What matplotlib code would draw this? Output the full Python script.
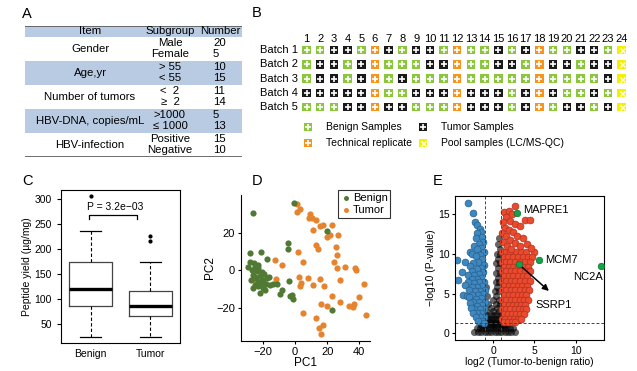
import matplotlib
matplotlib.use('Agg')
import matplotlib.pyplot as plt
from matplotlib.patches import Rectangle

plt.rcParams['font.family'] = ['Liberation Sans', 'DejaVu Sans']

# ---- panel A: clinical table ----
items = ['Gender', 'Age,yr', 'Number of tumors', 'HBV-DNA, copies/mL', 'HBV-infection']
subgroups = [['Male', 'Female'], ['> 55', '< 55'], ['<  2', '\u2265  2'],
             ['>1000', '\u2264 1000'], ['Positive', 'Negative']]
numbers = [[20, 5], [10, 15], [11, 14], [5, 13], [15, 10]]

# ---- panel B: batch layout (G benign, T tumor, O replicate, Y pool) ----
batches = ['Batch 1', 'Batch 2', 'Batch 3', 'Batch 4', 'Batch 5']
batch_layout = [
    'GGTTGOTGTTGOGGTGTOGGTTGY',
    'GTTGTOGGGTTOGGTTGOTTGTTY',
    'GTTGTOGTGGGOGGGGGOGGGGTY',
    'TTTTTOGGTTTOTTTGTOTGGTGY',
    'GGGTTOTTGGGOTTTGTOGTTGTY',
]
sample_colors = {'G': '#8cc63f', 'T': '#1a1a1a', 'O': '#f7941d', 'Y': '#f5f000'}
legend_names = [('G', 'Benign Samples'), ('T', 'Tumor Samples'),
                ('O', 'Technical replicate'), ('Y', 'Pool samples (LC/MS-QC)')]

# ---- panel C: peptide yield boxplot stats ----
box_groups = ['Benign', 'Tumor']
box_low = [25, 25]
box_q1 = [87, 67]
box_med = [121, 86]
box_q3 = [174, 116]
box_high = [236, 175]
box_fliers = [[307], [216, 226]]
p_text = 'P = 3.2e\u221203'

# ---- panel D: PCA ----
benign_pc1 = [-25.8, -0.6, 19.6, -4.5, -4.5, -21.2, -28.2, -17.3, -28.2, -25.2, -29.3, -24.7,
              -22.7, -3.7, -16, -13.4, -11.3, -8.2, -9.3, -3.1, -1.4, -2, 23.3, -25.8, -24,
              -21.6, -20.6, -24.7, -22.7, -19.6, -18.6, -21, -19.6, -26.8, -23.7, -20.6, -22.7,
              -27.2, -18.1, -15.5, -17.5, -21.6, -24.7, -19.0, -23.0, -26.0]
benign_pc2 = [30.2, 35.8, 20.9, 14.7, 11.2, 10, 9.1, 6, 4.7, 4.2, 1.8, 1.8, 1.2, -5.8, -3.2,
              -7, -7, -10.2, -12.5, -13.7, -14.9, -12.8, -21, -2.3, -4, -2.8, -4.9, -7.5, -8.4,
              -9.3, -10.2, -6.7, -4.9, 0.4, -0.5, -1, 3, -4.9, -7, -7.5, -4, -12, -3.2, -1.8,
              -6.0, -9.5]
tumor_pc1 = [1, 3, 1, 9.3, 8.7, 10.3, 12.8, 11.3, 15.5, 17.5, 23.1, 19.6, 21.6, 26.8, 12.8, 14,
             2.1, 25.2, 5.2, 24.3, 26.4, 25.8, 30.9, 37.5, 38, 27.8, 15.5, 7.8, 2.7, 3.7, 3.1,
             10.9, 18.1, 42.9, 22.7, 20.2, 16.1, 39.6, 27.8, 33.4, 36.1, 36.7, 43.9, 5.2, 12.8,
             15, 17.5, 16.1, -12.4, -8.2, -11.8, -25.4]
tumor_pc2 = [35, 32.3, 31, 29.8, 27.5, 27.5, 26.7, 21.4, 23.2, 24, 24, 17.9, 18.8, 18.8, 13.5,
             11.4, 10, 12.6, 4.7, 4.7, 8.2, 1.2, 1.8, 1.2, 0.4, -4.9, -4.6, -4, -3.2, -6.7, -8.4,
             -7.5, -8.1, -7.2, -13.3, -18.6, -17.5, -14, -16.8, -18.6, -19.3, -17.5, -23.7,
             -22.5, -25.1, -30.4, -28.6, -33.5, 5.6, 3, -4.6, -4.9]

# ---- panel E: volcano ----
blue_x = [-2.97, -2.4, -2.2, -1.95, -1.6, -1.45, -1.9, -1.3, -2.1, -1.2, -1.7, -2.3, -1.4, -2.0,
          -2.8, -2.5, -1.1, -1.6, -2.1, -4.3, -3.4, -1.3, -1.8, -2.4, -1.1, -2.8, -1.5, -2.0,
          -2.6, -3.8, -1.2, -1.7, -2.3, -3.0, -4.2, -1.4, -2.0, -2.6, -1.1, -1.7, -2.3, -3.0,
          -3.4, -1.3, -1.9, -2.6, -1.0, -1.6, -2.2, -2.9, -3.6, -3.2, -1.2, -1.8, -2.5, -2.9,
          -1.4, -2.1, -1.0, -1.7, -2.4, -2.8, -1.3, -2.0, -1.1, -1.6, -2.3, -2.7, -1.4, -1.9,
          -2.4, -1.1, -1.6, -2.1, -1.3, -1.8, -1.1]
blue_y = [16.4, 15.2, 14.0, 13.7, 13.2, 12.8, 12.6, 12.1, 12.0, 11.5, 11.3, 11.0, 10.8, 10.6,
          10.3, 10.0, 10.2, 9.9, 9.7, 9.2, 9.0, 9.3, 9.0, 8.9, 8.6, 8.5, 8.2, 8.1, 7.9, 7.7, 7.7,
          7.5, 7.4, 7.3, 6.7, 7.0, 6.9, 6.8, 6.5, 6.4, 6.3, 6.5, 6.1, 6.0, 5.8, 5.8, 5.5, 5.3,
          5.3, 5.4, 4.8, 4.7, 4.9, 4.8, 4.8, 4.6, 4.4, 4.3, 4.0, 3.9, 3.9, 3.8, 3.5, 3.4, 3.0,
          3.0, 3.0, 3.2, 2.6, 2.5, 2.6, 2.1, 2.1, 2.0, 1.6, 1.6, 1.3]
red_top_x = [2.6, 1.3, 1.9, 2.3, 3.8, 4.5, 1.6, 2.0, 1.2, 2.6, 3.3, 1.5, 1.9, 2.4, 1.1, 2.9, 1.6,
             3.6, 2.1, 1.2, 2.6, 4.1, 1.7, 3.2, 4.6, 2.2]
red_top_y = [16.0, 15.3, 15.4, 15.0, 14.3, 14.3, 14.6, 14.2, 14.0, 13.8, 13.5, 13.3, 13.0, 12.8,
             12.6, 12.3, 12.2, 12.0, 11.8, 11.5, 11.4, 11.2, 11.0, 11.0, 10.8, 10.6]
red_rows = [
    (10.2, [1.1, 1.6, 2.1, 2.8, 3.4, 4.0, 5.0]),
    (9.6, [1.3, 1.8, 2.4, 3.0, 3.6, 4.2, 4.7]),
    (9.0, [1.1, 1.6, 2.1, 2.7, 3.3, 3.9, 4.5]),
    (8.4, [1.3, 1.9, 2.4, 3.0, 3.6, 4.2]),
    (7.8, [1.1, 1.6, 2.2, 2.7, 3.3, 3.9, 4.4]),
    (7.2, [1.3, 1.9, 2.4, 3.0, 3.6, 4.1]),
    (6.6, [1.1, 1.6, 2.2, 2.7, 3.3, 3.8, 4.4]),
    (6.0, [1.3, 1.9, 2.4, 3.0, 3.5, 4.1]),
    (5.4, [1.1, 1.6, 2.2, 2.7, 3.3, 3.8, 4.3]),
    (4.8, [1.3, 1.9, 2.4, 3.0, 3.5, 4.0]),
    (4.2, [1.1, 1.6, 2.2, 2.7, 3.2, 3.7, 4.2]),
    (3.6, [1.3, 1.9, 2.4, 2.9, 3.4, 3.9]),
    (3.0, [1.1, 1.6, 2.1, 2.6, 3.1, 3.6, 4.0]),
    (2.4, [1.3, 1.8, 2.3, 2.8, 3.3, 3.7]),
    (1.8, [1.1, 1.5, 2.0, 2.5, 3.0, 3.4]),
    (1.4, [1.3, 1.8, 2.3, 2.7]),
]
# non-significant proteins (dark cone around zero)
gray_rows = [
    (12.0, [0.7]), (11.3, [0.6]), (10.6, [0.8]), (10.0, [0.5, 0.8]), (9.4, [0.6]),
    (8.8, [0.4, 0.8]), (8.2, [0.6]), (7.6, [0.4, 0.8]), (7.0, [0.6]), (6.4, [0.3, 0.7]),
    (5.8, [-0.8, 0.5]), (5.3, [0.2, 0.7]), (4.7, [-0.7, 0.4]), (4.2, [0.0, 0.7]),
    (3.7, [-0.6, 0.3, 0.8]), (3.2, [-0.3, 0.5]), (2.8, [-0.8, 0.0, 0.7]),
    (2.3, [-0.7, -0.3, 0.1, 0.5, 0.9]), (1.8, [-0.9, -0.5, -0.1, 0.3, 0.7]),
    (1.4, [-1.2, -0.8, -0.4, 0.0, 0.4, 0.8, 1.2]),
    (1.0, [-1.5, -1.1, -0.7, -0.3, 0.1, 0.5, 0.9, 1.3, 1.7]),
    (0.6, [-2.0, -1.6, -1.2, -0.8, -0.4, 0.0, 0.4, 0.8, 1.2, 1.6, 2.0, 2.4]),
    (0.2, [-2.3, -1.8, -1.4, -1.0, -0.6, -0.2, 0.2, 0.6, 1.0, 1.4, 1.8, 2.2, 2.7]),
]
hl_names = ['MAPRE1', 'MCM7', 'NC2A', 'SSRP1']
hl_x = [2.85, 5.6, 13.0, 3.1]
hl_y = [15.2, 9.2, 8.5, 8.7]

W, H = 637, 371
fig = plt.figure(figsize=(W / 100, H / 100), dpi=100)


def px_axes(left, top, right, bottom):
    return fig.add_axes([left / W, 1 - bottom / H, (right - left) / W, (bottom - top) / H])


for lab, x, y in [('A', 22, 14), ('B', 252, 13), ('C', 22, 181), ('D', 252, 181), ('E', 433, 181)]:
    fig.text(x / W, 1 - y / H, lab, fontsize=10.5, ha='left', va='center')

# ---------------- A ----------------
axA = px_axes(25, 26, 242, 157)
axA.set_xlim(0, 217)
axA.set_ylim(131, 0)
axA.axis('off')
shade = '#b9cbe3'
tfs = 8.2
axA.add_patch(Rectangle((0, 0), 217, 11, color=shade, lw=0))
for txt, cx in [('Item', 65), ('Subgroup', 145), ('Number', 195)]:
    axA.text(cx, 5.5, txt, ha='center', va='center', fontsize=tfs)
for i, item in enumerate(items):
    top = 11 + 24 * i
    if i % 2 == 1:
        axA.add_patch(Rectangle((0, top), 217, 24, color=shade, lw=0))
    axA.text(65, top + 12, item, ha='center', va='center', fontsize=tfs)
    for j in range(2):
        yy = top + 6 + 11 * j
        axA.text(145, yy, subgroups[i][j], ha='center', va='center', fontsize=tfs)
        axA.text(188, yy, str(numbers[i][j]), ha='left', va='center', fontsize=tfs)
axA.plot([0, 217], [0, 0], color='#555555', lw=1.2)
axA.plot([0, 217], [131, 131], color='#555555', lw=1.2)

# ---------------- B ----------------
c0, dc, r0, dr = 306.5, 13.7, 50, 14.3
bl, br, bt, bb = 255, 637, 30, 155
axB = px_axes(bl, bt, br, bb)
axB.set_xlim((bl - c0) / dc + 1, (br - c0) / dc + 1)
axB.set_ylim((bb - r0) / dr + 1, (bt - r0) / dr + 1)
axB.axis('off')


def sample_box(ax, c, r, code):
    ax.add_patch(Rectangle((c - 0.31, r - 0.3), 0.62, 0.6, color=sample_colors[code], lw=0))
    if code == 'Y':
        ax.plot(c, r, marker='x', ms=3.6, mew=1.0, color='#fffff0')
    else:
        ax.plot(c, r, marker='+', ms=4.2, mew=1.2, color='white')


for r, (name, row) in enumerate(zip(batches, batch_layout), start=1):
    axB.text(0.4, r, name, ha='right', va='center', fontsize=8)
    for c, code in enumerate(row, start=1):
        sample_box(axB, c, r, code)
for c in range(1, 25):
    axB.text(c, 0.2, str(c), ha='center', va='center', fontsize=8)

leg_pos = [(1.1, 6.38), (9.5, 6.38), (1.1, 7.5), (9.5, 7.5)]
for (code, name), (lx, ly) in zip(legend_names, leg_pos):
    sample_box(axB, lx, ly, code)
    axB.text(lx + 1.35, ly, name, ha='left', va='center', fontsize=7.5)

# ---------------- C ----------------
axC = px_axes(61, 190, 180, 343)
stats = []
for k in range(2):
    stats.append(dict(label=box_groups[k], whislo=box_low[k], q1=box_q1[k], med=box_med[k],
                      q3=box_q3[k], whishi=box_high[k], fliers=box_fliers[k]))
axC.bxp(stats, positions=[1, 2], widths=0.72, capwidths=0.36,
        boxprops=dict(color='#444444', lw=0.9),
        medianprops=dict(color='black', lw=2.4),
        whiskerprops=dict(color='black', lw=0.8, ls=(0, (3, 2))),
        capprops=dict(color='black', lw=0.9),
        flierprops=dict(marker='o', ms=2, mfc='black', mec='black'))
axC.set_xlim(0.5, 2.5)
axC.set_ylim(12, 318)
axC.set_yticks([50, 100, 150, 200, 250, 300])
axC.tick_params(axis='y', labelsize=7.5, length=3, width=0.8)
axC.tick_params(axis='x', labelsize=7.5, length=0, pad=4)
axC.set_ylabel('Peptide yield (\u00b5g/mg)', fontsize=7.5, labelpad=2)
for s in axC.spines.values():
    s.set_linewidth(0.8)
axC.plot([0.97, 0.97, 1.78, 1.78], [260, 269, 269, 260], color='black', lw=0.9)
axC.text(1.41, 284, p_text, ha='center', va='center', fontsize=7.5)

# ---------------- D ----------------
axD = px_axes(240.7, 195, 370, 341)
benign_col, tumor_col = '#507a34', '#e5832f'
h_t = axD.scatter(tumor_pc1, tumor_pc2, s=20, color=tumor_col, lw=0)
h_b = axD.scatter(benign_pc1, benign_pc2, s=20, color=benign_col, lw=0)
axD.set_xlim(-33.7, 46.6)
axD.set_ylim(-37.2, 39.8)
axD.set_xticks([-20, 0, 20, 40])
axD.set_yticks([-20, 0, 20])
axD.spines['top'].set_visible(False)
axD.spines['right'].set_visible(False)
axD.tick_params(labelsize=8, length=2.5, width=0.8, pad=1.5)
axD.set_xlabel('PC1', fontsize=8.5, labelpad=0)
axD.set_ylabel('PC2', fontsize=8.5, labelpad=0)
leg = axD.legend([h_b, h_t], ['Benign', 'Tumor'], loc='upper right', bbox_to_anchor=(1.2, 1.07),
                 fontsize=8, frameon=True, fancybox=False, handletextpad=0.1, borderpad=0.25,
                 labelspacing=0.15, handlelength=1, markerscale=0.8)
leg.get_frame().set_edgecolor('black')
leg.get_frame().set_linewidth(0.8)

# ---------------- E ----------------
axE = px_axes(455, 196, 604, 340)
gray_x = [x for y, xs in gray_rows for x in xs]
gray_y = [y for y, xs in gray_rows for x in xs]
axE.scatter(gray_x, gray_y, s=26, color='black', alpha=0.6, lw=0)
axE.scatter(blue_x, blue_y, s=24, color='#3d88c0', edgecolors='#285f8a', lw=0.5)
red_x = [x for y, xs in red_rows for x in xs] + red_top_x
red_y = [y for y, xs in red_rows for x in xs] + red_top_y
axE.scatter(red_x, red_y, s=24, color='#ea4a2e', edgecolors='#b1301c', lw=0.5)
axE.scatter(hl_x, hl_y, s=22, color='#15a34a', edgecolors='#0d6e30', lw=0.5, zorder=4)
axE.axvline(-1, color='#444444', lw=0.7, ls=(0, (3, 2)))
axE.axvline(1, color='#444444', lw=0.7, ls=(0, (3, 2)))
axE.axhline(1.3, color='#444444', lw=0.7, ls=(0, (3, 2)))
axE.annotate('', xy=(7.0, 5.1), xytext=(3.2, 8.6),
             arrowprops=dict(arrowstyle='-|>', color='black', lw=1.1, mutation_scale=9))
axE.text(3.65, 15.5, hl_names[0], fontsize=8, ha='left', va='center')
axE.text(6.3, 9.2, hl_names[1], fontsize=8, ha='left', va='center')
axE.text(11.5, 7.1, hl_names[2], fontsize=8, ha='center', va='center')
axE.text(7.3, 3.6, hl_names[3], fontsize=8, ha='center', va='center')
axE.set_xlim(-4.6, 13.4)
axE.set_ylim(-0.85, 17.3)
axE.set_xticks([0, 5, 10])
axE.set_yticks([0, 5, 10, 15])
axE.tick_params(labelsize=7.5, length=2.5, width=0.8, pad=1.5)
axE.set_xlabel('log2 (Tumor-to-benign ratio)', fontsize=7.5, labelpad=1)
axE.set_ylabel('\u2212log10 (P-value)', fontsize=7.5, labelpad=1)
for s in axE.spines.values():
    s.set_linewidth(0.8)

fig.savefig('out.png', dpi=100)
